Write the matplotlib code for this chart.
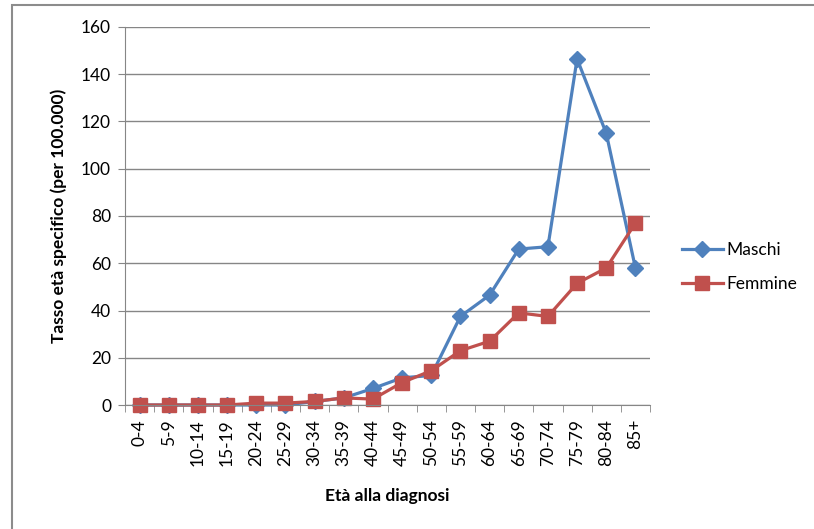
import matplotlib.pyplot as plt
import matplotlib.patches as patches
import numpy as np

# data
classi = ["0-4", "5-9", "10-14", "15-19", "20-24", "25-29", "30-34", "35-39", "40-44",
          "45-49", "50-54", "55-59", "60-64", "65-69", "70-74", "75-79", "80-84", "85+"]
maschi = [0, 0, 0, 0, 0, 0, 1.5, 3, 7, 11.5, 12.5, 37.5, 46.5, 66, 67, 146.5, 115, 58]
femmine = [0, 0, 0, 0, 0.8, 0.8, 1.5, 3, 2.5, 9.5, 14.5, 23, 27, 39, 37.5, 51.5, 58, 77]

BLU = "#4F81BD"
ROSSO = "#C0504D"
GRIGIO = "#868686"

plt.rcParams['font.family'] = ['Lato', 'DejaVu Sans']

fig = plt.figure(figsize=(8.14, 5.29), dpi=100)
# cornice esterna
fig.patches.append(patches.Rectangle((12/814, -0.05), 1.1, 1 - 5/529 + 0.05,
                                     transform=fig.transFigure, fill=False,
                                     edgecolor="#8c8c8c", linewidth=1.5))

ax = fig.add_axes([125/814, 1 - 405/529, 525/814, 378/529])
x = np.arange(len(classi))
ax.plot(x, maschi, color=BLU, lw=2.3, marker="D", ms=8, label="Maschi", clip_on=False)
ax.plot(x, femmine, color=ROSSO, lw=2.3, marker="s", ms=10, label="Femmine", clip_on=False)

ax.set_xlim(-0.5, len(classi) - 0.5)
ax.set_ylim(0, 160)
ax.set_yticks(range(0, 161, 20))
ax.grid(axis="y", color=GRIGIO, lw=1)
ax.set_axisbelow(True)

ax.set_xticks(x)
ax.set_xticklabels(classi, rotation=90, fontsize=12.5)
ax.set_xticks(np.arange(-0.5, len(classi), 1), minor=True)
ax.tick_params(axis="x", which="major", length=0, pad=10)
ax.tick_params(axis="x", which="minor", length=5, color=GRIGIO, direction="out")
ax.tick_params(axis="y", length=5, color=GRIGIO, labelsize=12.5, pad=5)

for s in ["top", "right"]:
    ax.spines[s].set_visible(False)
for s in ["left", "bottom"]:
    ax.spines[s].set_color(GRIGIO)

ax.set_xlabel("Età alla diagnosi", fontsize=12.5, fontweight="bold", labelpad=16)
ax.set_ylabel("Tasso età specifico (per 100.000)", fontsize=12.5, fontweight="bold", labelpad=10)

ax.legend(loc="center left", bbox_to_anchor=(666/814, 1 - 267/529), bbox_transform=fig.transFigure,
          frameon=False, fontsize=12.5, handlelength=2.4, labelspacing=1.0, handletextpad=0.2)

fig.savefig("out.png", dpi=100)
